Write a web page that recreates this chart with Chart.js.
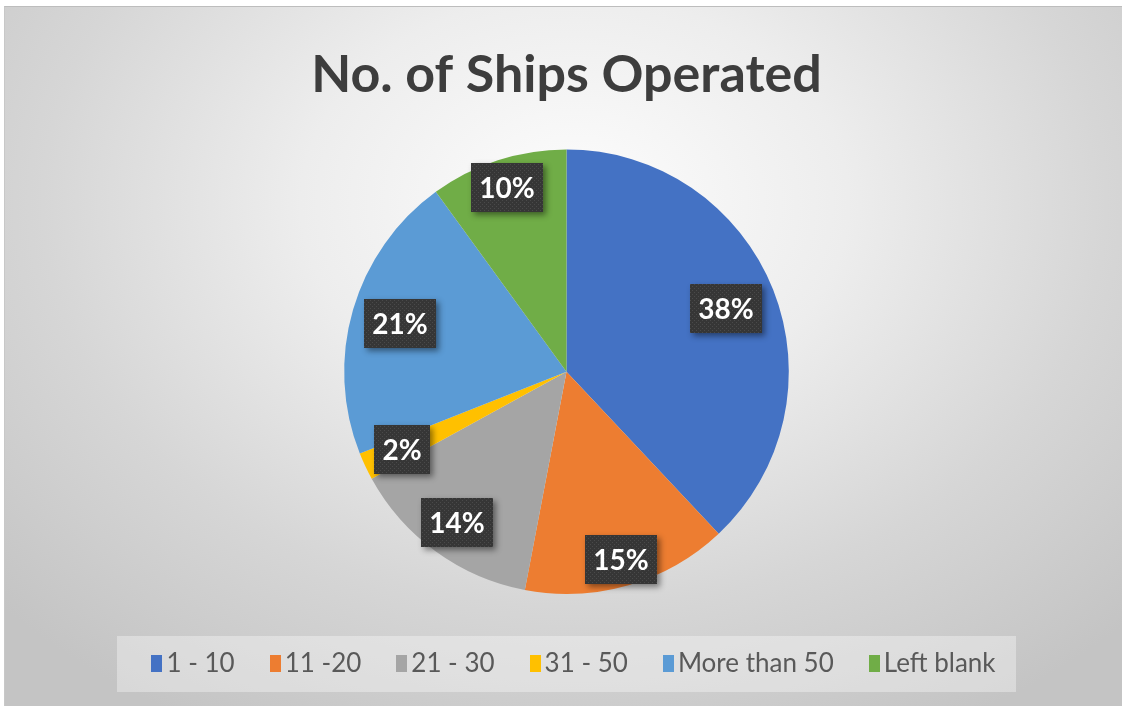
<!DOCTYPE html>
<html>
<head>
<meta charset="utf-8">
<title>No. of Ships Operated</title>
<script src="https://cdn.jsdelivr.net/npm/chart.js@4"></script>
<style>
  html, body { margin: 0; padding: 0; background: #fff; }
  #frame {
    position: absolute; left: 4px; top: 6px; width: 1117px; height: 699px;
    border-left: 1px solid #c8c8c8; border-top: 1px solid #bdbdbd;
    background: radial-gradient(ellipse 70% 85% at 51% 28%, #fdfdfd 0%, #ededed 35%, #d6d6d6 68%, #c4c4c4 100%);
  }
  #pie { position: absolute; left: 0; top: 0; }
</style>
</head>
<body>
<div id="frame"><canvas id="pie" width="1117" height="699"></canvas></div>
<script>
const categories = ['1 - 10', '11 -20', '21 - 30', '31 - 50', 'More than 50', 'Left blank'];
const shares = [38, 15, 14, 2, 21, 10];
const sliceColors = ['#4472C4', '#ED7D31', '#A5A5A5', '#FFC000', '#5B9BD5', '#70AD47'];

// dotted dark fill for the value callouts
function dotPattern(ctx) {
    const tile = document.createElement('canvas');
    tile.width = 4;
    tile.height = 4;
    const t = tile.getContext('2d');
    t.fillStyle = '#363636';
    t.fillRect(0, 0, 4, 4);
    t.fillStyle = '#4a4a4a';
    t.fillRect(1, 1, 1, 1);
    t.fillRect(3, 3, 1, 1);
    return ctx.createPattern(tile, 'repeat');
}

// value callouts placed along each slice's middle angle
const valueBoxes = {
    id: 'valueBoxes',
    afterDatasetsDraw(chart, args, opts) {
        const ctx = chart.ctx;
        const meta = chart.getDatasetMeta(0);
        const values = chart.data.datasets[0].data;
        const fill = dotPattern(ctx);
        ctx.save();
        ctx.font = opts.font;
        ctx.textAlign = 'center';
        ctx.textBaseline = 'middle';
        meta.data.forEach((arc, i) => {
            const p = arc.getProps(['x', 'y', 'startAngle', 'endAngle', 'outerRadius'], true);
            const mid = (p.startAngle + p.endAngle) / 2;
            const r = p.outerRadius * opts.radial[i];
            const cx = p.x + Math.cos(mid) * r;
            const cy = p.y + Math.sin(mid) * r;
            const text = values[i] + '%';
            const w = Math.round(ctx.measureText(text).width + 17);
            const h = 49;
            const left = Math.round(cx - w / 2), top = Math.round(cy - h / 2);

            ctx.save();
            ctx.shadowColor = 'rgba(0,0,0,0.45)';
            ctx.shadowBlur = 6;
            ctx.shadowOffsetX = 3;
            ctx.shadowOffsetY = 3;
            ctx.fillStyle = '#383838';
            ctx.fillRect(left, top, w, h);
            ctx.restore();

            ctx.fillStyle = fill;
            ctx.fillRect(left, top, w, h);
            ctx.fillStyle = '#ffffff';
            ctx.fillText(text, left + w / 2, top + h / 2 + 1);
        });
        ctx.restore();
    }
};

// legend row in a light box under the pie
const bottomLegend = {
    id: 'bottomLegend',
    afterDraw(chart, args, opts) {
        const ctx = chart.ctx;
        const labels = chart.data.labels;
        const colors = chart.data.datasets[0].backgroundColor;
        ctx.save();
        ctx.font = opts.font;
        const widths = labels.map(t => ctx.measureText(t).width);
        const items = widths.map(w => opts.boxWidth + opts.boxGap + w);
        const total = items.reduce((a, b) => a + b, 0) + opts.itemGap * (items.length - 1);
        const center = (chart.chartArea.left + chart.chartArea.right) / 2 + opts.shift;
        const start = center - total / 2;
        const midY = chart.height - opts.bottom;

        ctx.fillStyle = opts.panel;
        ctx.fillRect(Math.round(start - 34), midY - 27, Math.round(total + 55), 56);

        let x = start;
        ctx.textBaseline = 'middle';
        ctx.textAlign = 'left';
        labels.forEach((label, i) => {
            ctx.fillStyle = colors[i];
            ctx.fillRect(Math.round(x), Math.round(midY - opts.boxHeight / 2), opts.boxWidth, opts.boxHeight);
            ctx.fillStyle = opts.color;
            ctx.fillText(label, x + opts.boxWidth + opts.boxGap, midY + 1);
            x += items[i] + opts.itemGap;
        });
        ctx.restore();
    }
};

new Chart(document.getElementById('pie'), {
    type: 'pie',
    data: {
        labels: categories,
        datasets: [{
            data: shares,
            backgroundColor: sliceColors,
            borderWidth: 0
        }]
    },
    options: {
        responsive: false,
        animation: false,
        events: [],
        layout: {
            padding: { left: 6, bottom: 112 }
        },
        plugins: {
            legend: { display: false },
            tooltip: { enabled: false },
            title: {
                display: true,
                text: 'No. of Ships Operated',
                color: '#3d3d3d',
                font: { family: 'Lato', size: 52, weight: 'bold', lineHeight: 1.2 },
                padding: { top: 37, bottom: 43 }
            },
            valueBoxes: {
                font: 'bold 28px Lato',
                radial: [0.77, 0.88, 0.84, 0.82, 0.78, 0.87]
            },
            bottomLegend: {
                font: '26px Lato',
                color: '#595959',
                panel: 'rgba(255,255,255,0.35)',
                boxWidth: 11,
                boxHeight: 17,
                boxGap: 4,
                itemGap: 35,
                shift: 7,
                bottom: 43
            }
        }
    },
    plugins: [valueBoxes, bottomLegend]
});
</script>
</body>
</html>
